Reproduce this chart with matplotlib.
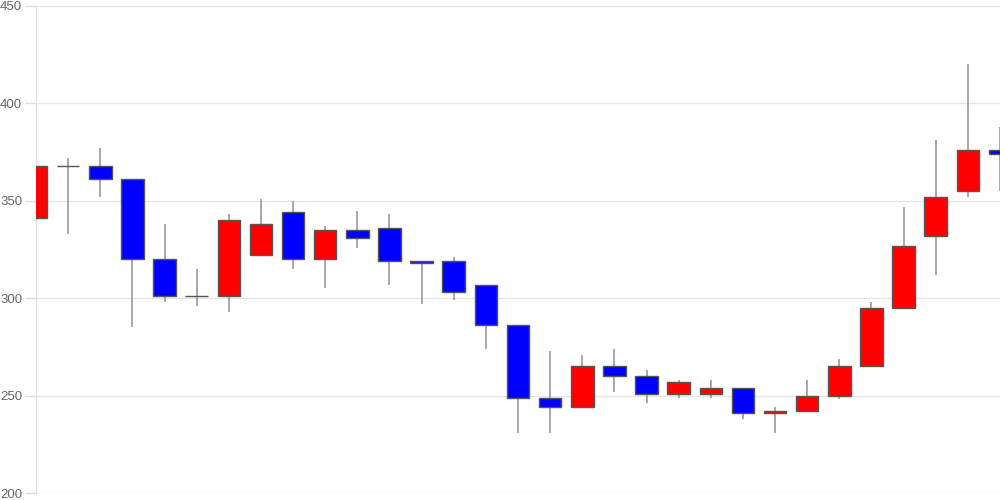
import matplotlib
matplotlib.use("Agg")
import matplotlib.pyplot as plt
import numpy as np

# 四本値 (始値, 高値, 安値, 終値)
opens = [341, 368, 368, 361, 320, 301, 301, 322, 344, 320, 335, 336, 319, 319, 307, 286,
         249, 244, 265, 260, 251, 251, 254, 241, 242, 250, 265, 295, 332, 355, 376]
highs = [380, 372, 377, 361, 338, 315, 343, 351, 350, 337, 345, 343, 319, 321, 307, 286,
         273, 271, 274, 263, 258, 258, 254, 244, 258, 269, 298, 347, 381, 420, 388]
lows = [341, 333, 352, 285, 298, 296, 293, 322, 315, 305, 326, 307, 297, 299, 274, 231,
        231, 244, 252, 246, 249, 249, 238, 231, 242, 248, 265, 295, 312, 352, 355]
closes = [368, 368, 361, 320, 301, 301, 340, 338, 320, 335, 331, 319, 318, 303, 286, 249,
          244, 265, 260, 251, 257, 254, 241, 242, 250, 265, 295, 327, 352, 376, 374]
yticks = [200, 250, 300, 350, 400, 450]

plt.rcParams['font.family'] = ['Liberation Sans', 'DejaVu Sans']

fig = plt.figure(figsize=(10, 5), dpi=100)
ax = fig.add_axes([0.036, 0.014, 0.964, 0.974])

x = np.arange(len(opens))
o = np.array(opens)
c = np.array(closes)

ax.vlines(x, lows, highs, color='#999999', linewidth=1.2, zorder=2)

colors = []
for a, b in zip(o, c):
    if b > a:
        colors.append('#ff0000')
    elif b < a:
        colors.append('#0000ff')
    else:
        colors.append('#666666')
heights = c - o
ax.bar(x, heights, bottom=o, width=0.7, color=colors, edgecolor='#555555',
       linewidth=1.0, zorder=3)

ax.set_xlim(0, len(opens) - 1)
ax.set_ylim(200, 450)
ax.set_yticks(yticks)
ax.set_xticks([])
ax.grid(axis='y', color='#e6e6e6', linewidth=1.0, zorder=0)
ax.set_axisbelow(True)

for s in ['top', 'right', 'bottom']:
    ax.spines[s].set_visible(False)
ax.spines['left'].set_color('#dddddd')
ax.tick_params(axis='y', colors='#666666', labelsize=9.5, length=8, width=1,
               pad=2)
ax.tick_params(axis='y', color='#dddddd')
for lab in ax.get_yticklabels():
    lab.set_color('#666666')

fig.savefig('out.png', dpi=100)
